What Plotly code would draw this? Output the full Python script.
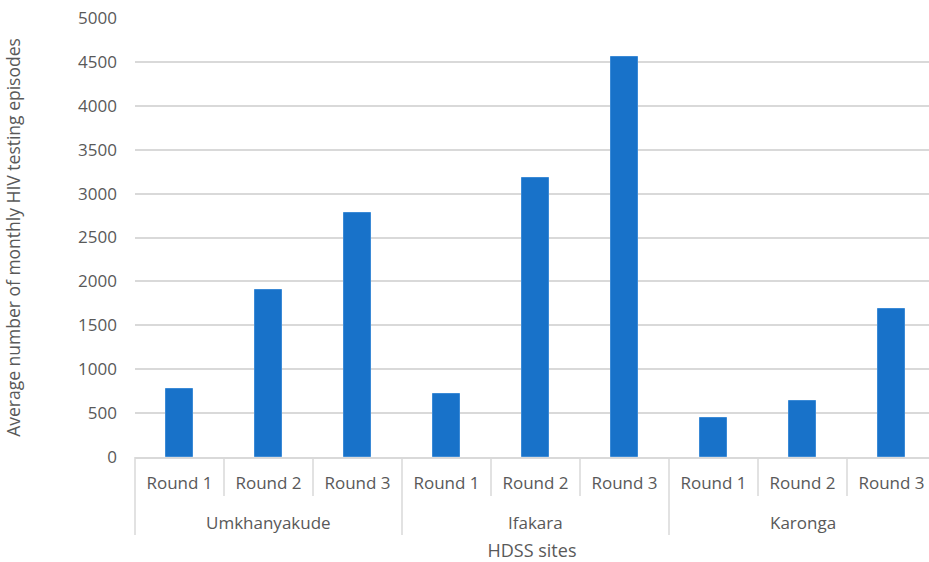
import plotly.graph_objects as go

# Average number of monthly HIV testing episodes per HDSS site and round
sites = ["Umkhanyakude", "Ifakara", "Karonga"]
rounds = ["Round 1", "Round 2", "Round 3"]
umkhanyakude = [770, 1900, 2780]
ifakara = [717, 3175, 4555]
karonga = [445, 640, 1690]
y_ticks = [0, 500, 1000, 1500, 2000, 2500, 3000, 3500, 4000, 4500, 5000]

values = umkhanyakude + ifakara + karonga
labels = rounds * len(sites)
xpos = list(range(len(values)))

FONT = "Open Sans, Segoe UI, Arial, sans-serif"
GRAY_TEXT = "#595959"
GRID = "#d9d9d9"

X_RANGE = [-0.5, -0.5 + 794 / 89]


def to_paper_x(v):
    return (v - X_RANGE[0]) / (X_RANGE[1] - X_RANGE[0])


fig = go.Figure()
fig.add_trace(go.Bar(
    x=xpos,
    y=values,
    width=0.31,
    marker=dict(color="#1872c9", line=dict(color="#3b8ad6", width=1)),
    hoverinfo="y",
))

# Separator lines of the two-level category axis
shapes = []
n_rounds = len(rounds)
for i in range(len(values) + 1):
    boundary = i - 0.5
    is_group = (i % n_rounds == 0)
    shapes.append(dict(
        type="line", xref="paper", yref="paper",
        x0=to_paper_x(boundary), x1=to_paper_x(boundary),
        ysizemode="pixel", yanchor=0, y0=0, y1=-78 if is_group else -39,
        line=dict(color=GRID, width=1.5),
    ))

# Site names underneath the round labels
annotations = []
for g, site in enumerate(sites):
    center = g * n_rounds + (n_rounds - 1) / 2
    annotations.append(dict(
        x=center, xref="x", y=0, yref="paper",
        yshift=-65, yanchor="middle", showarrow=False,
        text=site, font=dict(family=FONT, size=17, color=GRAY_TEXT),
    ))

fig.update_layout(
    width=929, height=562,
    margin=dict(l=135, r=0, t=18, b=105),
    paper_bgcolor="white", plot_bgcolor="white",
    showlegend=False,
    bargap=0,
    shapes=shapes,
    annotations=annotations,
    font=dict(family=FONT, size=17, color=GRAY_TEXT),
)
fig.update_xaxes(
    range=X_RANGE,
    tickmode="array", tickvals=xpos, ticktext=labels,
    showgrid=False, zeroline=False,
    showline=True, linecolor=GRID, linewidth=1.5,
    ticks="", ticklabelstandoff=10,
    tickfont=dict(family=FONT, size=17, color=GRAY_TEXT),
    title=dict(text="HDSS sites", standoff=54,
               font=dict(family=FONT, size=18, color=GRAY_TEXT)),
)
fig.update_yaxes(
    range=[0, 5000],
    tickmode="array", tickvals=y_ticks,
    showgrid=True, gridcolor=GRID, gridwidth=1.5,
    zeroline=False, showline=False,
    ticks="", ticklabelstandoff=17,
    tickfont=dict(family=FONT, size=17, color=GRAY_TEXT),
    title=dict(text="Average number of monthly HIV testing episodes", standoff=52,
               font=dict(family=FONT, size=17.5, color=GRAY_TEXT)),
)

fig.write_html("out.html")
